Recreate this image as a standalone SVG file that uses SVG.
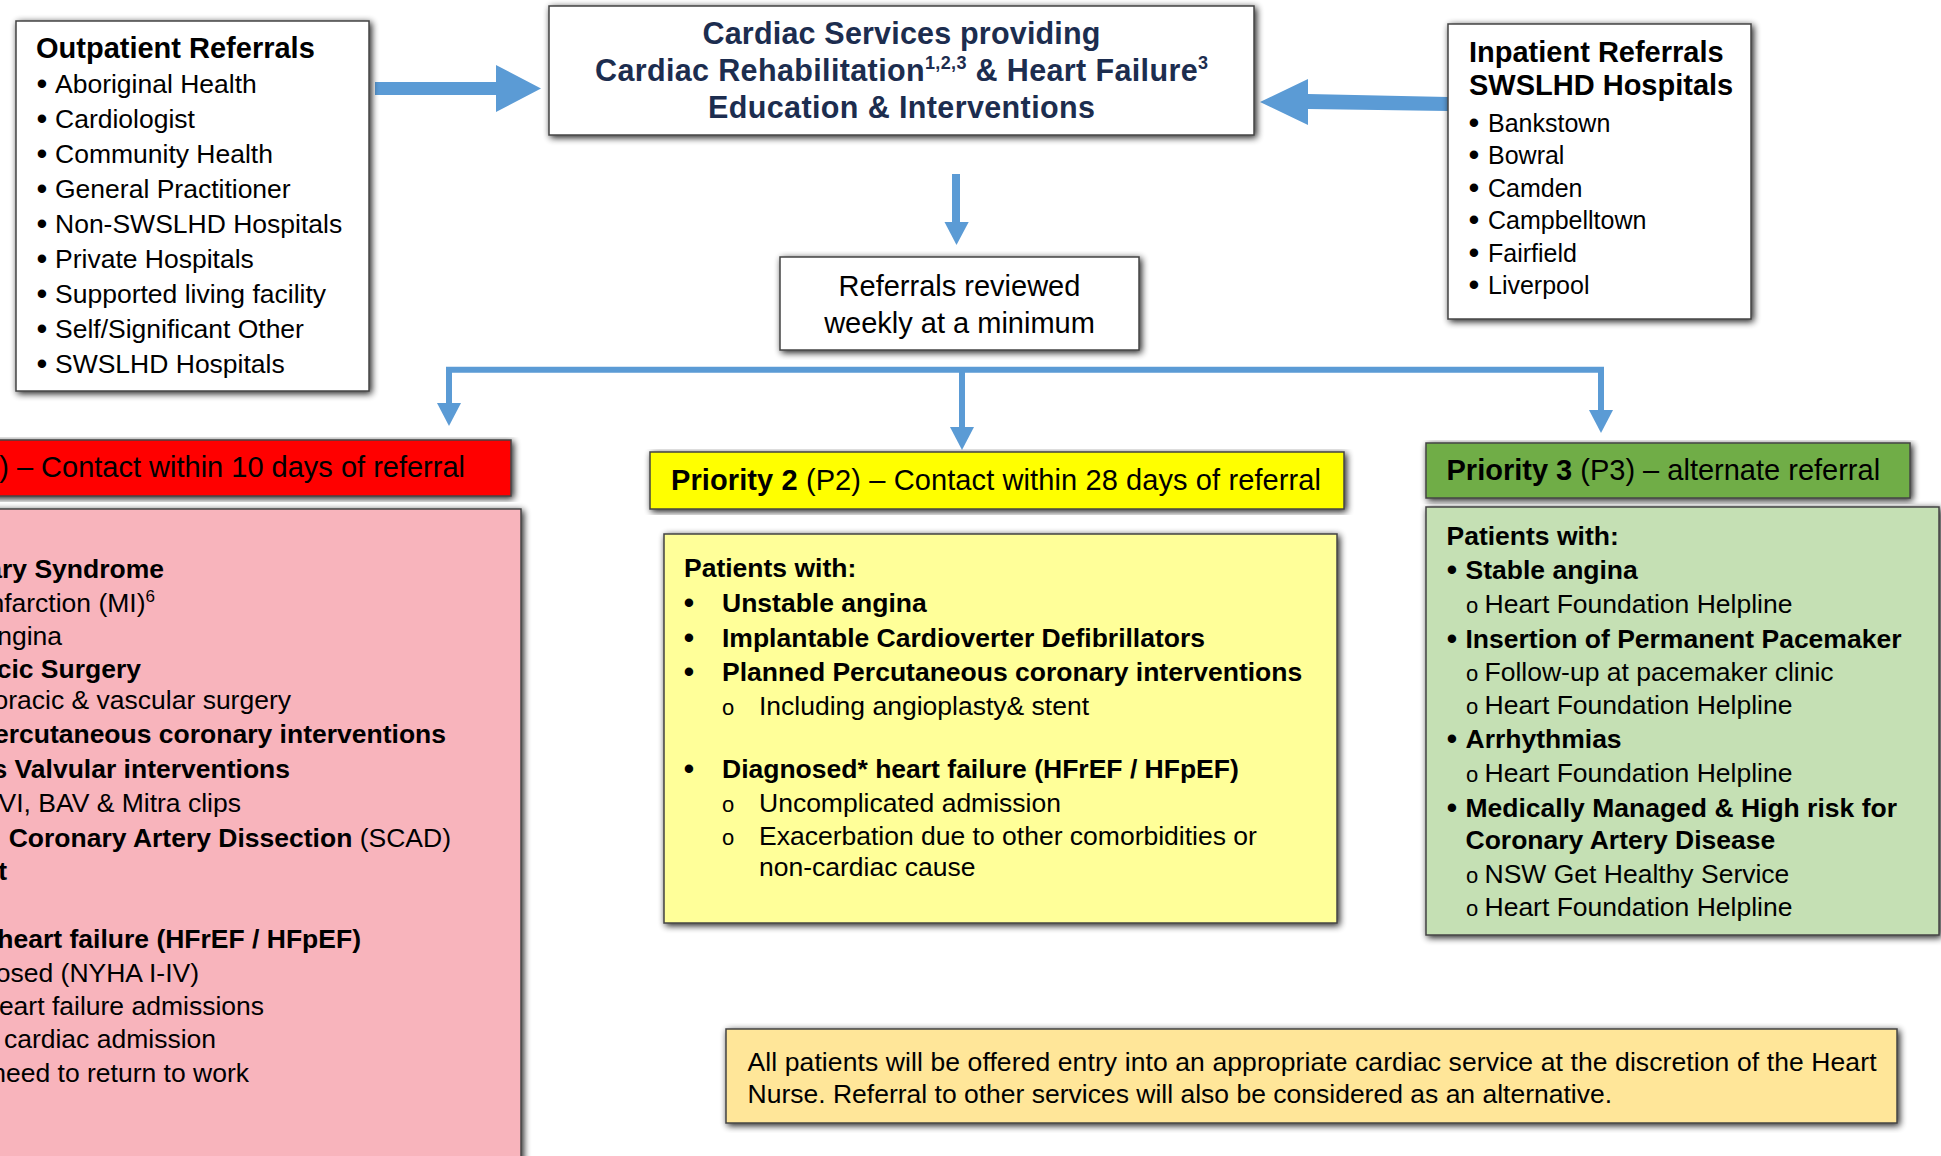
<svg xmlns="http://www.w3.org/2000/svg" width="1941" height="1156" viewBox="0 0 1941 1156">
<defs>
<filter id="sh" x="-6%" y="-8%" width="114%" height="118%">
<feGaussianBlur in="SourceAlpha" stdDeviation="3.5"/>
<feOffset dx="2" dy="2" result="b"/>
<feComponentTransfer><feFuncA type="linear" slope="0.9"/></feComponentTransfer>
<feMerge><feMergeNode/><feMergeNode in="SourceGraphic"/></feMerge>
</filter>
<style>
text{font-family:"Liberation Sans",Arial,sans-serif;fill:#000}
.box{stroke:#444;stroke-width:1.5;filter:url(#sh)}
.h{font-size:29px}
.b{font-size:26.5px}
.s{font-size:25px}
.bd{font-weight:bold}
.nv{fill:#1C2D4F;font-weight:bold;font-size:30.5px}
.o{font-size:22px}
.u{font-size:31px}
.arr{fill:#5B9BD5}
.ln{stroke:#5B9BD5;stroke-width:6;fill:none}
</style>
</defs>
<rect width="1941" height="1156" fill="#fff"/>

<g id="connectors">
<polygon class="arr" points="375,82 496,82 496,65 541,88.5 496,112 496,95 375,95"/>
<polygon class="arr" points="1448,97 1308,94 1308,79 1260,102 1308,125 1308,109 1448,111"/>
<rect class="arr" x="952" y="174" width="8" height="49"/>
<polygon class="arr" points="944.5,222 968.7,222 956.5,245"/>
<polyline class="ln" points="449,405 449,369.7 1601,369.7 1601,412"/>
<line class="ln" x1="962" y1="369" x2="962" y2="428"/>
<polygon class="arr" points="437,403 461,403 449,426"/>
<polygon class="arr" points="950,427 974,427 962,450"/>
<polygon class="arr" points="1589,410 1613,410 1601,433"/>
</g>

<g id="outpatient">
<rect class="box" x="16" y="21" width="353" height="370" fill="#fff"/>
<text class="h bd" x="36" y="58">Outpatient Referrals</text>
<g class="b">
<text class="u" x="42" y="94" text-anchor="middle">•</text><text x="55" y="93">Aboriginal Health</text>
<text class="u" x="42" y="129" text-anchor="middle">•</text><text x="55" y="128">Cardiologist</text>
<text class="u" x="42" y="164" text-anchor="middle">•</text><text x="55" y="163">Community Health</text>
<text class="u" x="42" y="199" text-anchor="middle">•</text><text x="55" y="198">General Practitioner</text>
<text class="u" x="42" y="234" text-anchor="middle">•</text><text x="55" y="233">Non-SWSLHD Hospitals</text>
<text class="u" x="42" y="269" text-anchor="middle">•</text><text x="55" y="268">Private Hospitals</text>
<text class="u" x="42" y="304" text-anchor="middle">•</text><text x="55" y="303">Supported living facility</text>
<text class="u" x="42" y="339" text-anchor="middle">•</text><text x="55" y="338">Self/Significant Other</text>
<text class="u" x="42" y="374" text-anchor="middle">•</text><text x="55" y="373">SWSLHD Hospitals</text>
</g>
</g>

<g id="cardiac-services">
<rect class="box" x="549" y="6" width="705" height="129" fill="#fff"/>
<text class="nv" x="901.5" y="44" text-anchor="middle" textLength="398">Cardiac Services providing</text>
<text class="nv" x="901.5" y="81" text-anchor="middle" textLength="613">Cardiac Rehabilitation<tspan font-size="18" dy="-12">1,2,3</tspan><tspan dy="12"> &amp; Heart Failure</tspan><tspan font-size="18" dy="-12">3</tspan></text>
<text class="nv" x="901.5" y="118" text-anchor="middle" textLength="387">Education &amp; Interventions</text>
</g>

<g id="inpatient">
<rect class="box" x="1448" y="24" width="303" height="295" fill="#fff"/>
<text class="h bd" x="1469" y="62">Inpatient Referrals</text>
<text class="h bd" x="1469" y="95">SWSLHD Hospitals</text>
<g class="s">
<text class="u" x="1474" y="132.5" text-anchor="middle">•</text><text x="1488" y="131.5">Bankstown</text>
<text class="u" x="1474" y="165" text-anchor="middle">•</text><text x="1488" y="164">Bowral</text>
<text class="u" x="1474" y="197.5" text-anchor="middle">•</text><text x="1488" y="196.5">Camden</text>
<text class="u" x="1474" y="230" text-anchor="middle">•</text><text x="1488" y="229">Campbelltown</text>
<text class="u" x="1474" y="262.5" text-anchor="middle">•</text><text x="1488" y="261.5">Fairfield</text>
<text class="u" x="1474" y="295" text-anchor="middle">•</text><text x="1488" y="294">Liverpool</text>
</g>
</g>

<g id="review">
<rect class="box" x="780" y="257" width="359" height="93" fill="#fff"/>
<text class="h" x="959.5" y="295.5" text-anchor="middle">Referrals reviewed</text>
<text class="h" x="959.5" y="332.5" text-anchor="middle">weekly at a minimum</text>
</g>

<g id="priority1-header">
<rect class="box" x="-10" y="440" width="521" height="56" fill="#FF0000"/>
<text class="h" x="465" y="477" text-anchor="end">) – Contact within 10 days of referral</text>
</g>

<g id="priority1-body">
<rect class="box" x="-10" y="509" width="531" height="660" fill="#F8B4BC"/>
<g class="b">
<text class="bd" x="164" y="578" text-anchor="end">ary Syndrome</text>
<text x="155" y="612" text-anchor="end">nfarction (MI)<tspan font-size="17" dy="-10">6</tspan></text>
<text x="62" y="645" text-anchor="end">ngina</text>
<text class="bd" x="141" y="678" text-anchor="end">cic Surgery</text>
<text x="291" y="709" text-anchor="end">oracic &amp; vascular surgery</text>
<text class="bd" x="446" y="743" text-anchor="end">ercutaneous coronary interventions</text>
<text class="bd" x="290" y="778" text-anchor="end">s Valvular interventions</text>
<text x="241" y="812" text-anchor="end">VI, BAV &amp; Mitra clips</text>
<text x="451" y="847" text-anchor="end"><tspan font-weight="bold">Coronary Artery Dissection</tspan> (SCAD)</text>
<text class="bd" x="7" y="880" text-anchor="end">t</text>
<text class="bd" x="361" y="948" text-anchor="end">heart failure (HFrEF / HFpEF)</text>
<text x="199" y="982" text-anchor="end">osed (NYHA I-IV)</text>
<text x="264" y="1015" text-anchor="end">eart failure admissions</text>
<text x="216" y="1048" text-anchor="end">cardiac admission</text>
<text x="249" y="1082" text-anchor="end">need to return to work</text>
</g>
</g>

<g id="priority2-header">
<rect class="box" x="650" y="452" width="694" height="57" fill="#FFFF00"/>
<text class="h" x="671" y="490" textLength="650"><tspan font-weight="bold">Priority 2</tspan> (P2) – Contact within 28 days of referral</text>
</g>

<g id="priority2-body">
<rect class="box" x="664" y="534" width="673" height="389" fill="#FFFF99"/>
<g class="b">
<text class="bd" x="684" y="577">Patients with:</text>
<text class="u" x="689" y="613" text-anchor="middle">•</text><text class="bd" x="722" y="612">Unstable angina</text>
<text class="u" x="689" y="648" text-anchor="middle">•</text><text class="bd" x="722" y="647">Implantable Cardioverter Defibrillators</text>
<text class="u" x="689" y="682" text-anchor="middle">•</text><text class="bd" x="722" y="681">Planned Percutaneous coronary interventions</text>
<text class="o" x="728" y="715" text-anchor="middle">o</text><text x="759" y="715">Including angioplasty&amp; stent</text>
<text class="u" x="689" y="779" text-anchor="middle">•</text><text class="bd" x="722" y="778">Diagnosed* heart failure (HFrEF / HFpEF)</text>
<text class="o" x="728" y="812" text-anchor="middle">o</text><text x="759" y="812">Uncomplicated admission</text>
<text class="o" x="728" y="845" text-anchor="middle">o</text><text x="759" y="845">Exacerbation due to other comorbidities or</text>
<text x="759" y="876">non-cardiac cause</text>
</g>
</g>

<g id="priority3-header">
<rect class="box" x="1426" y="443" width="484" height="55" fill="#70AD47"/>
<text class="h" x="1446.5" y="480"><tspan font-weight="bold">Priority 3</tspan> (P3) – alternate referral</text>
</g>

<g id="priority3-body">
<rect class="box" x="1426" y="507" width="513" height="428" fill="#C5E0B4"/>
<g class="b">
<text class="bd" x="1446.5" y="545">Patients with:</text>
<text class="u" x="1452" y="580" text-anchor="middle">•</text><text class="bd" x="1465.5" y="579">Stable angina</text>
<text class="o" x="1472" y="613" text-anchor="middle">o</text><text x="1484.5" y="613">Heart Foundation Helpline</text>
<text class="u" x="1452" y="649" text-anchor="middle">•</text><text class="bd" x="1465.5" y="648">Insertion of Permanent Pacemaker</text>
<text class="o" x="1472" y="681" text-anchor="middle">o</text><text x="1484.5" y="681">Follow-up at pacemaker clinic</text>
<text class="o" x="1472" y="714" text-anchor="middle">o</text><text x="1484.5" y="714">Heart Foundation Helpline</text>
<text class="u" x="1452" y="749" text-anchor="middle">•</text><text class="bd" x="1465.5" y="748">Arrhythmias</text>
<text class="o" x="1472" y="782" text-anchor="middle">o</text><text x="1484.5" y="782">Heart Foundation Helpline</text>
<text class="u" x="1452" y="818" text-anchor="middle">•</text><text class="bd" x="1465.5" y="817">Medically Managed &amp; High risk for</text>
<text class="bd" x="1465.5" y="849">Coronary Artery Disease</text>
<text class="o" x="1472" y="883" text-anchor="middle">o</text><text x="1484.5" y="883">NSW Get Healthy Service</text>
<text class="o" x="1472" y="916" text-anchor="middle">o</text><text x="1484.5" y="916">Heart Foundation Helpline</text>
</g>
</g>

<g id="note">
<rect class="box" x="726" y="1029" width="1171" height="94" fill="#FFE699"/>
<text class="b" x="747.5" y="1071" textLength="1129">All patients will be offered entry into an appropriate cardiac service at the discretion of the Heart</text>
<text class="b" x="747.5" y="1103">Nurse. Referral to other services will also be considered as an alternative.</text>
</g>
</svg>
